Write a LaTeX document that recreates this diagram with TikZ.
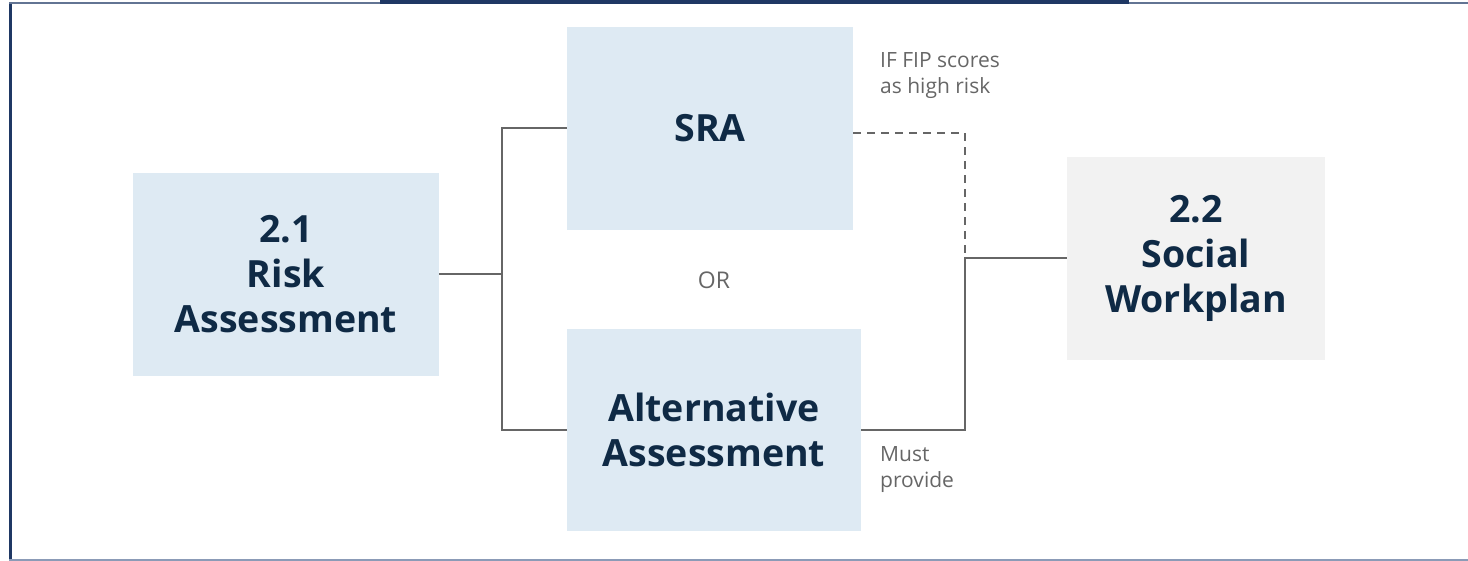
\documentclass[tikz,border=0pt]{standalone}
\usepackage{fontspec}
\setmainfont{Open Sans}
\definecolor{boxblue}{HTML}{DEEAF3}
\definecolor{boxgray}{HTML}{F2F2F2}
\definecolor{navy}{HTML}{0F2A45}
\definecolor{framenavy}{HTML}{1F3864}
\definecolor{framelight}{HTML}{8B9BB7}
\definecolor{linegray}{HTML}{666666}
\definecolor{labelgray}{HTML}{666666}
\tikzset{
  stepbox/.style={fill=boxblue, draw=none, inner sep=0pt, align=center, text=navy,
    font=\fontsize{37.5}{45}\selectfont\bfseries},
  graybox/.style={stepbox, fill=boxgray},
  conn/.style={draw=linegray, line width=2pt},
  dconn/.style={draw=linegray, line width=2pt, dash pattern=on 8pt off 6pt},
  lbl/.style={inner sep=0pt, align=left, text=labelgray, font=\fontsize{21}{26}\selectfont, anchor=north west},
}
\begin{document}
\begin{tikzpicture}[x=1pt,y=-1pt]
\useasboundingbox (0,0) rectangle (1468,561);
% frame
\draw[framenavy, line width=3pt] (10.5,3) -- (10.5,559.5);
\draw[framenavy!70, line width=1.5pt] (9,3) -- (1468,3);
\draw[framelight, line width=1.5pt] (9,560) -- (1468,560);
\fill[framenavy] (380,0) rectangle (1129,4.5);
% boxes
\node[stepbox, minimum width=306pt, minimum height=203pt] (ra) at (286,274.5) {\raisebox{0pt}{}2.1\\Risk\\Assessment};
\node[stepbox, minimum width=286pt, minimum height=203pt] (sra) at (710,128.5) {SRA};
\node[stepbox, minimum width=294pt, minimum height=202pt] (alt) at (714,430) {Alternative\\Assessment};
\node[graybox, minimum width=258pt, minimum height=203pt] (sw) at (1196,258.5) {2.2\\Social\\Workplan};
% OR
\node[inner sep=0pt, text=labelgray, font=\fontsize{23}{28}\selectfont] (or) at (714,280) {OR};
% connectors
\coordinate (j) at (502,274.5);
\draw[conn] (ra.east) -- (j);
\draw[conn] (sra.west) -| (j) |- (alt.west);
\coordinate (k) at (965,258.5);
\draw[conn] (alt.east) -| (k) -- (sw.west);
\coordinate (d) at ([yshift=-4.5pt]sra.east);
\draw[dconn] (d) -| (k);
% labels
\node[lbl] (ifl) at (880,52.5) {IF FIP scores\\as high risk};
\node[lbl] (must) at (880,446.5) {Must\\provide};
\end{tikzpicture}
\end{document}
